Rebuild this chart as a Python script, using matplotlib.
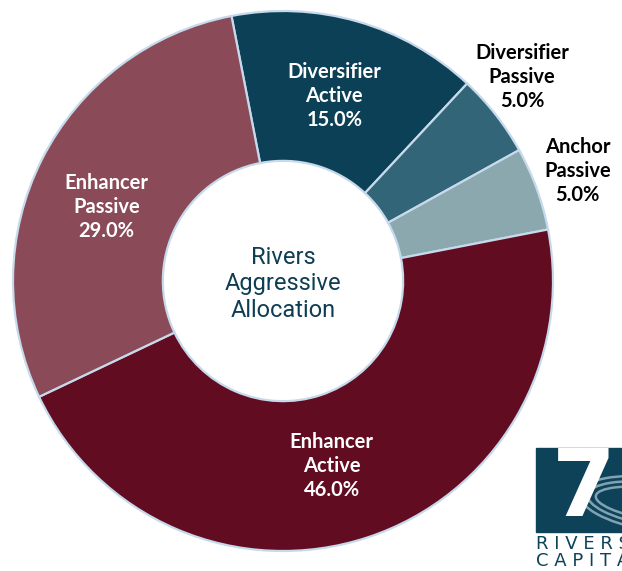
import matplotlib
matplotlib.use('Agg')
import numpy as np
import matplotlib.pyplot as plt
from matplotlib.patches import Rectangle, Arc

# -----------------------------------------------------------------------------
# data
# -----------------------------------------------------------------------------
labels = ['Diversifier\nActive', 'Diversifier\nPassive', 'Anchor\nPassive',
          'Enhancer\nActive', 'Enhancer\nPassive']
shares = [15.0, 5.0, 5.0, 46.0, 29.0]
inside = [True, False, False, True, True]
colors = ['#0C4056', '#336578', '#8BA8AF', '#620C22', '#8A4A58']
center_title = 'Rivers\nAggressive\nAllocation'

# -----------------------------------------------------------------------------
# figure
# -----------------------------------------------------------------------------
fig = plt.figure(figsize=(6.22, 5.71), dpi=100)
ax = fig.add_axes([0, 0, 1, 1])

R = 270.0  # pixels per unit radius
cx, cy = 283.0, 281.0  # center in pixels (from top-left)

wedges, _ = ax.pie(shares, colors=colors, startangle=101, counterclock=False,
                   radius=1.0,
                   wedgeprops=dict(width=0.555, edgecolor='#C6DAEC',
                                   linewidth=1.6))

# label placement
font = 'Lato'
tweak = [0.5, 2.5, 0.5, -3.5, 4.0]  # small angle nudges (deg)
for w, lab, s, ins, dt in zip(wedges, labels, shares, inside, tweak):
    mid = np.deg2rad((w.theta1 + w.theta2) / 2 + dt)
    txt = '{}\n{:.1f}%'.format(lab, s)
    if ins:
        r = 0.71
        col = 'white'
    else:
        r = 1.165
        col = 'black'
    ax.text(r*np.cos(mid), r*np.sin(mid), txt, ha='center', va='center',
            color=col, fontsize=14.5, fontweight='bold', family=font,
            linespacing=1.25)

ax.text(0, -0.01, center_title, ha='center', va='center', color='#0F3E54',
        fontsize=17, family='Roboto', linespacing=1.2)

# -----------------------------------------------------------------------------
# logo in the corner
# -----------------------------------------------------------------------------
def px(x, y):
    return (x - cx) / R, (cy - y) / R

x0, y0 = px(536, 532)
x1, y1 = px(640, 448)
ax.add_patch(Rectangle((x0, y0), x1 - x0, y1 - y0, color='#0E4258', zorder=3))
for a, b in [(0.60, 0.20), (0.54, 0.16), (0.48, 0.12)]:
    ax.add_patch(Arc(px(660, 505), a, b, angle=-8, theta1=100, theta2=250,
                     color='#7FA3B3', lw=1.8, zorder=4))
ax.text(*px(584, 490), '7', fontsize=66, color='white', fontweight='bold',
        family='DejaVu Sans', ha='center', va='center', zorder=5)
ax.text(*px(536, 544), 'R I V E R S', fontsize=13, color='#0E4258',
        family='DejaVu Sans', ha='left', va='center')
ax.text(*px(536, 561), 'C A P I T A L', fontsize=13, color='#0E4258',
        family='DejaVu Sans', ha='left', va='center')

ax.set_xlim(-cx / R, (622 - cx) / R)
ax.set_ylim(-(571 - cy) / R, cy / R)
ax.set_aspect('auto')
ax.axis('off')

fig.savefig('out.png', dpi=100)
